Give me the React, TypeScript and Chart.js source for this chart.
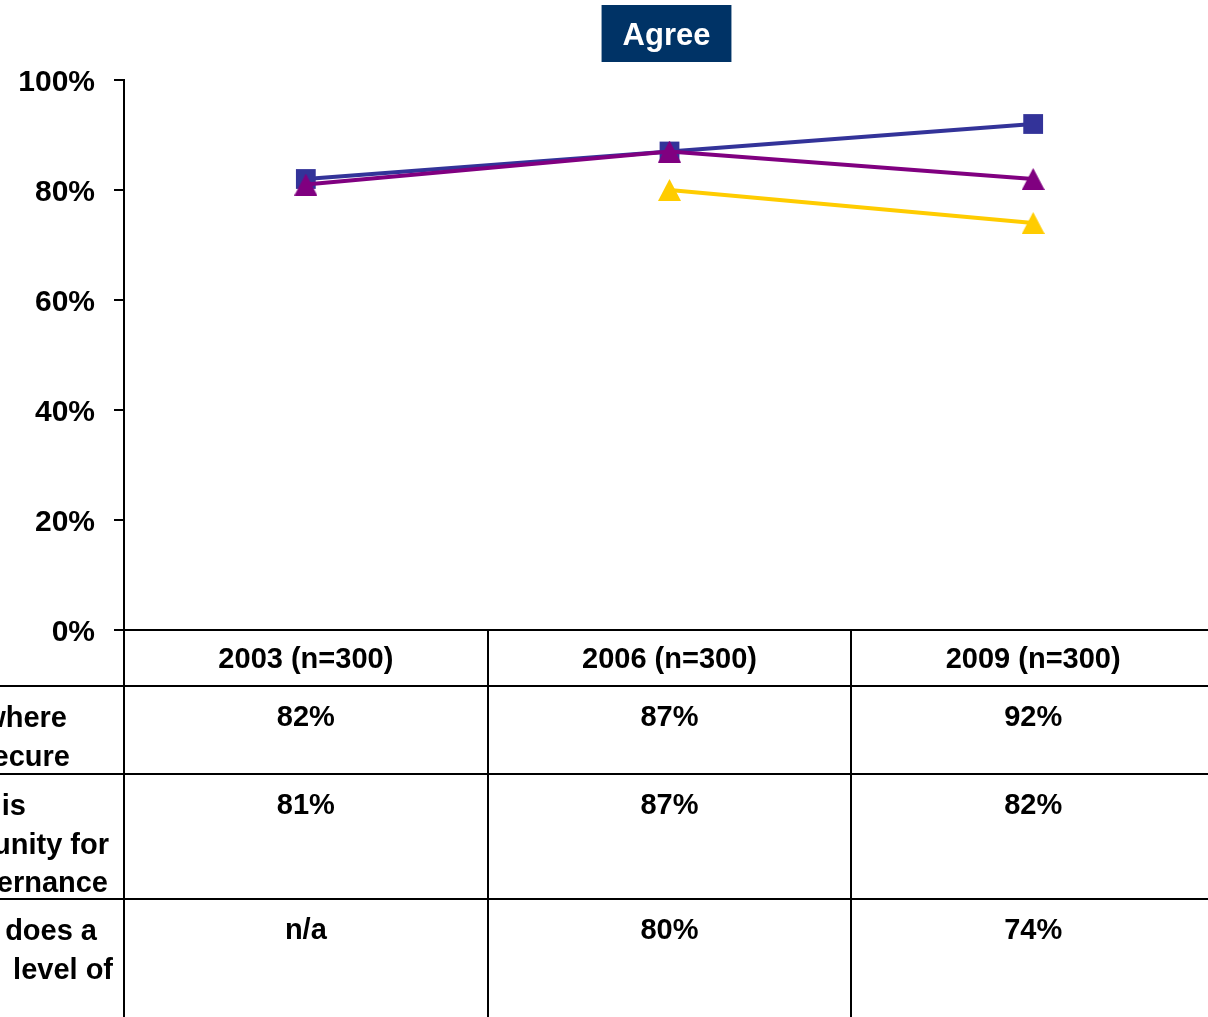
import React, { useEffect, useRef } from "react";
import { Chart, registerables } from "chart.js";

Chart.register(...registerables);

const titleText = "Agree";
const categories = ["2003 (n=300)", "2006 (n=300)", "2009 (n=300)"];
const seriesSecure: (number | null)[] = [82, 87, 92];
const seriesCommunity: (number | null)[] = [81, 87, 82];
const seriesLevel: (number | null)[] = [null, 80, 74];
const yTicks = [0, 20, 40, 60, 80, 100];
// visible (cropped) fragments of the row labels
const rowLabelSecure = ["where", "ecure"];
const rowLabelCommunity = ["is", "unity for", "ernance"];
const rowLabelLevel = ["does a", "level of"];

const FONT = '"Liberation Sans", Arial, sans-serif';

// layout (not data)
const ROW_TOPS = [630, 686, 774, 899];
const LABEL_RIGHT_EDGES = [
  [67, 70],
  [26, 109, 108],
  [97, 113],
];

const fmt = (v: number | null) => (v == null ? "n/a" : v + "%");

function makeTriangle(color: string): HTMLCanvasElement {
  const c = document.createElement("canvas");
  c.width = 23;
  c.height = 22;
  const g = c.getContext("2d")!;
  g.fillStyle = color;
  g.beginPath();
  g.moveTo(11.5, 0);
  g.lineTo(23, 22);
  g.lineTo(0, 22);
  g.closePath();
  g.fill();
  return c;
}

const tablePlugin = {
  id: "dataTable",
  afterDraw(chart: any) {
    const ctx = chart.ctx as CanvasRenderingContext2D;
    const xs = chart.scales.x;
    const area = chart.chartArea;
    const W = chart.width;
    const H = chart.height;
    const colW = (area.right - area.left) / categories.length;
    ctx.save();
    ctx.strokeStyle = "#000";
    ctx.lineWidth = 2;
    for (let i = 1; i < ROW_TOPS.length; i++) {
      ctx.beginPath();
      ctx.moveTo(0, ROW_TOPS[i]);
      ctx.lineTo(W, ROW_TOPS[i]);
      ctx.stroke();
    }
    for (let i = 0; i < categories.length; i++) {
      const x = Math.round(xs.getPixelForValue(i) - colW / 2);
      ctx.beginPath();
      ctx.moveTo(x, area.bottom);
      ctx.lineTo(x, H);
      ctx.stroke();
    }
    ctx.fillStyle = "#000";
    ctx.font = `bold 29px ${FONT}`;
    ctx.textBaseline = "middle";
    ctx.textAlign = "center";
    categories.forEach((c, i) => {
      ctx.fillText(c, xs.getPixelForValue(i), ROW_TOPS[0] + 30);
    });
    const series = [seriesSecure, seriesCommunity, seriesLevel];
    series.forEach((s, r) => {
      s.forEach((v, i) => {
        ctx.fillText(fmt(v), xs.getPixelForValue(i), ROW_TOPS[r + 1] + 32);
      });
    });
    const labels = [rowLabelSecure, rowLabelCommunity, rowLabelLevel];
    ctx.textAlign = "right";
    labels.forEach((lines, r) => {
      lines.forEach((t, k) => {
        ctx.fillText(t, LABEL_RIGHT_EDGES[r][k], ROW_TOPS[r + 1] + 33 + k * 38.5);
      });
    });
    ctx.restore();
  },
};

const titlePlugin = {
  id: "boxTitle",
  afterDraw(chart: any) {
    const ctx = chart.ctx as CanvasRenderingContext2D;
    const area = chart.chartArea;
    const cx = (area.left + area.right) / 2 - 3;
    ctx.save();
    ctx.font = `bold 31px ${FONT}`;
    const w = ctx.measureText(titleText).width + 42;
    ctx.fillStyle = "#003366";
    ctx.fillRect(cx - w / 2, 5, w, 57);
    ctx.fillStyle = "#fff";
    ctx.textAlign = "center";
    ctx.textBaseline = "middle";
    ctx.fillText(titleText, cx, 36);
    ctx.restore();
  },
};

export default function App() {
  const ref = useRef<HTMLCanvasElement | null>(null);
  useEffect(() => {
    if (!ref.current) return;
    const purpleTri = makeTriangle("#800080");
    const yellowTri = makeTriangle("#FFCC00");
    const chart = new Chart(ref.current, {
      type: "line",
      data: {
        labels: categories,
        datasets: [
          {
            label: "secure",
            data: seriesSecure,
            borderColor: "#333399",
            backgroundColor: "#333399",
            borderWidth: 4,
            pointStyle: "rect",
            pointRadius: 14,
            pointBorderWidth: 0,
            order: 1,
          },
          {
            label: "community",
            data: seriesCommunity,
            borderColor: "#800080",
            backgroundColor: "#800080",
            borderWidth: 4,
            pointStyle: purpleTri,
            pointRadius: 12,
            pointBorderWidth: 0,
            order: 0,
          },
          {
            label: "level",
            data: seriesLevel,
            borderColor: "#FFCC00",
            backgroundColor: "#FFCC00",
            borderWidth: 4,
            pointStyle: yellowTri,
            pointRadius: 12,
            pointBorderWidth: 0,
            order: 2,
          },
        ],
      },
      options: {
        animation: false,
        responsive: false,
        devicePixelRatio: 1,
        layout: { autoPadding: false, padding: { top: 80, right: 1, left: 0, bottom: 0 } },
        plugins: {
          legend: { display: false },
          title: { display: false },
          tooltip: { enabled: false },
        },
        scales: {
          x: {
            offset: true,
            ticks: { display: false },
            grid: { display: false, drawTicks: false },
            border: { display: true, color: "#000", width: 2 },
            afterFit: (s: any) => {
              s.height = 1017 - 630;
            },
          },
          y: {
            min: 0,
            max: 100,
            afterBuildTicks: (s: any) => {
              s.ticks = yTicks.map((v) => ({ value: v }));
            },
            ticks: {
              callback: (v: any) => v + "%",
              color: "#000",
              padding: 19,
              labelOffset: 3,
              font: { family: FONT, size: 30, weight: "bold" },
            },
            grid: {
              drawOnChartArea: false,
              drawTicks: true,
              tickLength: 10,
              color: "#000",
              lineWidth: 2,
            },
            border: { color: "#000", width: 2 },
            afterFit: (s: any) => {
              s.width = 124;
            },
          },
        },
      },
      plugins: [tablePlugin, titlePlugin],
    } as any);
    return () => chart.destroy();
  }, []);
  return (
    <div
      style={{
        position: "fixed",
        left: 0,
        top: 0,
        width: 1208,
        height: 1017,
        overflow: "hidden",
        background: "#fff",
      }}
    >
      <canvas ref={ref} width={1216} height={1017} style={{ display: "block" }} />
    </div>
  );
}
